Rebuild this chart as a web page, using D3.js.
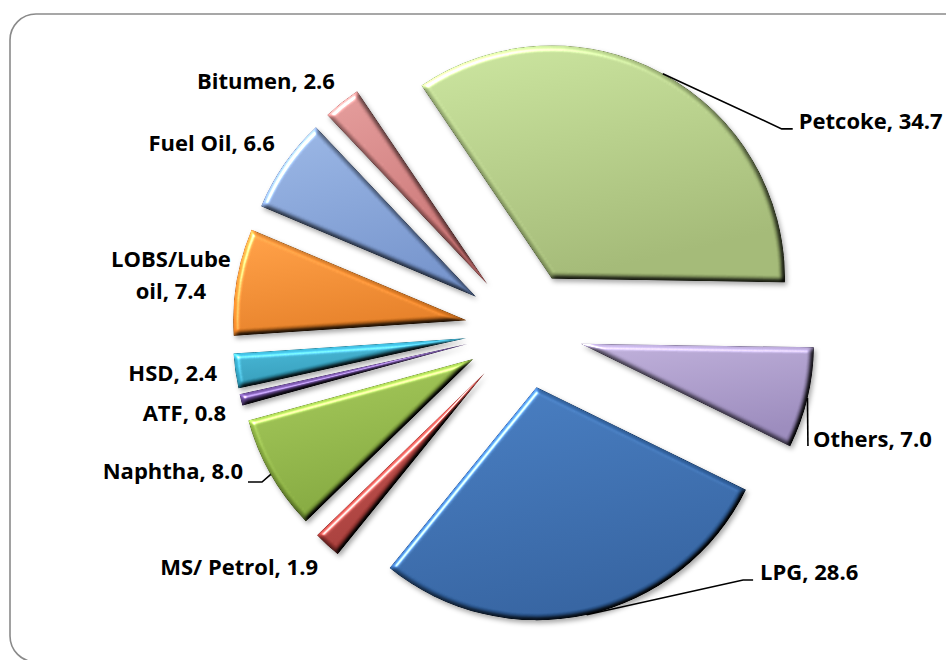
<!DOCTYPE html>
<html>
<head>
<meta charset="utf-8">
<script src="https://cdn.jsdelivr.net/npm/d3@7"></script>
<style>
  html, body { margin: 0; padding: 0; background: #fff; }
  svg { display: block; }
  .lbl { font-family: "Open Sans", Lato, sans-serif; font-weight: 700; fill: #000; }
</style>
</head>
<body>
<svg id="chart" width="946" height="660"></svg>
<script>
// ---- data ----
const categories = ["LPG", "MS/ Petrol", "Naphtha", "ATF", "HSD", "LOBS/Lube oil", "Fuel Oil", "Bitumen", "Petcoke", "Others"];
const values = [28.6, 1.9, 8.0, 0.8, 2.4, 7.4, 6.6, 2.6, 34.7, 7.0];
const colorsTop = ["#4077bb", "#c7534f", "#9fc353", "#7f5bab", "#42b5d4", "#f89a40", "#93afdd", "#dc9594", "#c3dd97", "#b7a8d2"];
const colorsBottom = ["#2d5c99", "#9c3431", "#7b9f36", "#5d4287", "#2a90ad", "#dd7820", "#6f8dc4", "#bf6b6b", "#9bb16f", "#9383b4"];

// ---- layout ----
const W = 946, H = 660;
const cx = 524, cy = 330;         // pie centre
const R = 233;                    // slice radius
const explode = 58.5;             // explosion distance
const startDeg = 116.1;           // first slice (LPG) start, clockwise from 12 o'clock
const fontSize = 22;
// label anchor offsets from the outer-arc midpoint of each slice
const labelLayout = [
  { dx: 173.4, dy: -34.7, anchor: "start", leader: [[-17, 0], [-7, 0]] },
  { dx: -9.1, dy: 30.1, anchor: "end" },
  { dx: -27.8, dy: 4.6, anchor: "end", leader: [[19, 3], [5, 3]] },
  { dx: -14.9, dy: 21.5, anchor: "end" },
  { dx: -18.4, dy: 9.9, anchor: "end" },
  { dx: -65.6, dy: -14.4, anchor: "middle", wrap: true },
  { dx: -9.6, dy: -12.6, anchor: "end" },
  { dx: -6.8, dy: -13.5, anchor: "end" },
  { dx: 135.9, dy: 55.2, anchor: "start", leader: [[-17, 0], [-6, 0]] },
  { dx: 5.5, dy: 49, anchor: "start", leader: [[-5, -1]] }
];

const svg = d3.select("#chart");
const defs = svg.append("defs");

// frame
svg.append("rect")
  .attr("x", 10).attr("y", 14).attr("width", 960).attr("height", 648)
  .attr("rx", 26).attr("ry", 26)
  .attr("fill", "#fff").attr("stroke", "#8a8a8a").attr("stroke-width", 1.6);

// bevel + shadow filter (region in slice-local coordinates)
const f = defs.append("filter").attr("id", "bevel")
  .attr("filterUnits", "userSpaceOnUse")
  .attr("x", -320).attr("y", -320).attr("width", 640).attr("height", 640)
  .attr("color-interpolation-filters", "sRGB");
f.append("feGaussianBlur").attr("in", "SourceAlpha").attr("stdDeviation", 2.6).attr("result", "blur");
const dl = f.append("feDiffuseLighting").attr("in", "blur").attr("surfaceScale", 4)
  .attr("diffuseConstant", 1).attr("lighting-color", "#fff").attr("result", "diff");
dl.append("feDistantLight").attr("azimuth", 225).attr("elevation", 50);
f.append("feComposite").attr("in", "SourceGraphic").attr("in2", "diff")
  .attr("operator", "arithmetic").attr("k1", 1.3).attr("k2", 0).attr("k3", 0).attr("k4", 0).attr("result", "shaded");
const sl = f.append("feSpecularLighting").attr("in", "blur").attr("surfaceScale", 4)
  .attr("specularConstant", 0.7).attr("specularExponent", 28).attr("lighting-color", "#fff").attr("result", "spec");
sl.append("feDistantLight").attr("azimuth", 225).attr("elevation", 40);
f.append("feComposite").attr("in", "spec").attr("in2", "SourceAlpha").attr("operator", "in").attr("result", "specIn");
f.append("feComposite").attr("in", "shaded").attr("in2", "specIn")
  .attr("operator", "arithmetic").attr("k1", 0).attr("k2", 1).attr("k3", 1).attr("k4", 0).attr("result", "lit");
f.append("feOffset").attr("in", "SourceAlpha").attr("dx", 2).attr("dy", 3).attr("result", "off");
f.append("feGaussianBlur").attr("in", "off").attr("stdDeviation", 2.5).attr("result", "offBlur");
f.append("feFlood").attr("flood-color", "#000").attr("flood-opacity", 0.35).attr("result", "fl");
f.append("feComposite").attr("in", "fl").attr("in2", "offBlur").attr("operator", "in").attr("result", "shadow");
const m = f.append("feMerge");
m.append("feMergeNode").attr("in", "shadow");
m.append("feMergeNode").attr("in", "lit");

// gradients
categories.forEach((c, i) => {
  const g = defs.append("linearGradient").attr("id", "g" + i)
    .attr("x1", 0).attr("y1", 0).attr("x2", 0.35).attr("y2", 1);
  g.append("stop").attr("offset", "0%").attr("stop-color", colorsTop[i]);
  g.append("stop").attr("offset", "100%").attr("stop-color", colorsBottom[i]);
});

const toRad = Math.PI / 180;
const pie = d3.pie().sort(null).value(d => d)
  .startAngle(startDeg * toRad).endAngle(startDeg * toRad + 2 * Math.PI);
const arcs = pie(values);
const arc = d3.arc().innerRadius(0).outerRadius(R);

const gPie = svg.append("g").attr("transform", `translate(${cx},${cy})`);
gPie.selectAll("path.slice").data(arcs).enter().append("path")
  .attr("class", "slice")
  .attr("transform", d => {
    const a = (d.startAngle + d.endAngle) / 2;
    return `translate(${explode * Math.sin(a)},${-explode * Math.cos(a)})`;
  })
  .attr("d", arc)
  .attr("fill", (d, i) => `url(#g${i})`)
  .attr("filter", "url(#bevel)");

// labels + leader lines
const gLab = svg.append("g");
arcs.forEach((d, i) => {
  const a = (d.startAngle + d.endAngle) / 2;
  const ax = cx + (R + explode) * Math.sin(a);
  const ay = cy - (R + explode) * Math.cos(a);
  const L = labelLayout[i];
  const px = ax + L.dx, py = ay + L.dy;
  if (L.leader) {
    const pts = [[ax, ay]].concat(L.leader.map(p => [px + p[0], py + p[1]]));
    gLab.append("path").attr("d", d3.line()(pts))
      .attr("fill", "none").attr("stroke", "#000").attr("stroke-width", 1.6);
  }
  const full = `${categories[i]}, ${values[i].toFixed(1)}`;
  let lines = [full];
  if (L.wrap) {
    const k = categories[i].lastIndexOf(" ");
    lines = [categories[i].slice(0, k), `${categories[i].slice(k + 1)}, ${values[i].toFixed(1)}`];
  }
  const t = gLab.append("text").attr("class", "lbl")
    .attr("text-anchor", L.anchor).attr("font-size", fontSize)
    .attr("x", px).attr("y", py);
  lines.forEach((s, j) => {
    t.append("tspan").attr("x", px).attr("dy", j === 0 ? 0 : 32).text(s);
  });
});
</script>
</body>
</html>
